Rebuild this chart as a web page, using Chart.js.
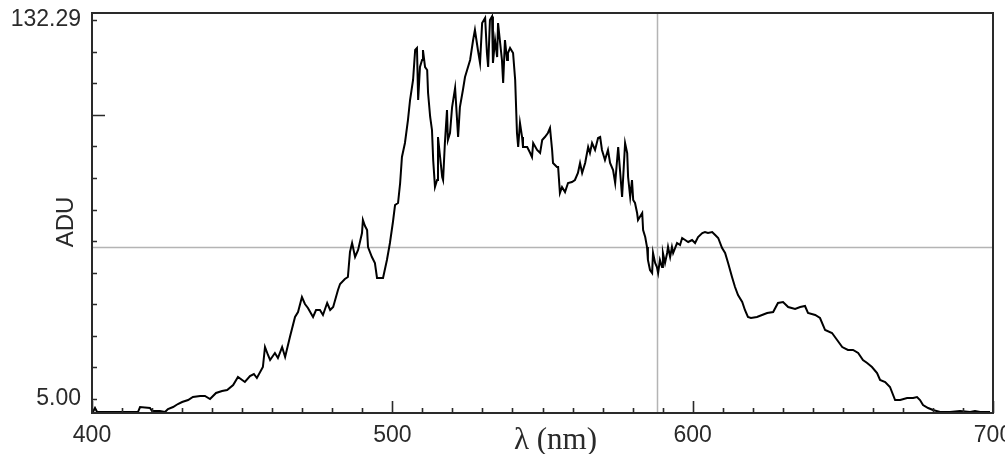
<!DOCTYPE html>
<html><head><meta charset="utf-8">
<script src="https://cdn.jsdelivr.net/npm/chart.js@4.4.0/dist/chart.umd.min.js"></script>
<style>html,body{margin:0;padding:0;background:#fff;overflow:hidden}#wrap{width:1005px;height:454px}</style>
</head><body><div id="wrap"><canvas id="c" width="1005" height="454"></canvas></div>
<script>
// ---- data ----
const wavelengths = [400.3,401.0,401.7,415.3,416.0,419.3,420.0,422.6,424.3,425.3,427.0,428.6,430.0,432.0,433.6,436.0,437.6,439.3,441.3,443.3,445.0,447.0,448.6,450.0,450.9,452.6,453.9,454.9,456.9,457.6,458.6,459.3,460.9,461.9,463.3,464.3,465.9,467.6,468.6,469.9,470.9,471.9,473.6,474.6,475.9,476.9,478.3,479.3,480.3,481.9,482.6,484.2,485.2,485.9,486.6,487.6,488.6,489.9,490.2,490.9,491.6,491.9,493.2,494.2,494.9,496.9,498.2,499.2,500.2,500.9,501.9,502.6,503.2,504.2,505.2,505.9,506.9,507.6,508.2,508.6,509.2,509.9,510.2,510.9,511.6,511.9,512.6,513.2,513.6,514.2,514.9,515.2,515.9,516.6,516.9,517.5,518.2,518.5,519.2,519.9,520.9,521.9,522.5,523.5,524.2,524.9,525.9,526.9,527.5,528.5,529.2,529.9,530.9,531.5,531.9,532.5,533.2,533.5,534.2,534.9,535.2,535.9,536.5,536.9,537.5,538.2,538.5,539.2,540.2,540.9,541.5,541.9,542.5,543.2,543.5,544.9,545.9,546.5,546.9,548.2,549.2,549.9,550.8,551.8,552.5,553.2,553.5,554.8,555.2,555.8,556.5,557.5,558.5,559.8,560.8,561.8,562.5,563.2,564.2,565.2,565.8,566.5,567.5,568.5,569.2,569.8,570.8,571.8,572.5,573.5,574.2,575.2,575.8,576.5,577.5,578.2,578.5,579.2,579.8,580.2,580.8,581.5,581.8,583.2,583.5,584.2,584.8,585.1,585.8,586.5,586.8,587.5,588.1,588.5,589.1,589.8,590.1,590.8,591.5,591.8,592.5,593.1,593.5,594.8,595.8,596.5,597.5,598.5,599.8,600.8,601.8,603.2,604.1,605.1,606.5,607.5,608.5,609.8,610.8,611.8,613.1,614.1,615.1,616.5,617.4,618.4,619.4,621.4,623.1,624.8,626.8,628.4,630.1,631.8,634.1,635.8,637.4,638.4,640.8,642.4,644.1,646.4,648.1,649.8,651.7,653.4,655.1,656.7,658.1,659.7,661.4,662.4,664.1,665.7,667.4,669.1,671.4,673.4,674.7,675.7,676.7,678.4,680.0,682.4,685.7,689.0,692.4,694.0,695.7,699.0];
const adu = [0.63,1.98,0.63,0.63,2.31,1.98,0.97,0.97,0.63,1.64,2.31,3.32,3.99,4.66,5.67,6.01,6.01,5.0,7.02,7.69,8.02,9.70,12.39,11.38,10.71,12.72,13.40,12.05,15.75,22.46,19.78,18.10,20.45,18.77,22.46,19.11,25.82,32.54,34.22,39.26,36.91,35.56,32.54,34.89,34.89,33.21,37.24,34.89,35.90,41.61,43.62,45.30,45.97,54.37,57.39,52.69,55.04,60.75,65.12,63.10,61.76,56.05,52.69,50.68,45.64,45.64,51.68,57.39,64.45,70.15,70.83,77.54,86.28,90.98,98.70,105.42,112.14,122.21,122.88,105.42,116.50,118.85,122.21,116.50,115.49,107.77,99.71,95.35,85.27,76.20,78.55,92.99,86.28,79.56,78.55,90.98,102.06,91.99,94.34,103.07,109.45,92.99,103.07,108.78,113.14,115.49,118.85,125.57,128.93,122.21,117.85,131.28,133.0,121.20,116.50,132.3,133.5,117.85,125.57,119.86,131.28,124.56,118.85,111.13,125.57,118.85,121.20,122.88,121.20,112.14,94.34,89.63,97.70,92.99,89.63,89.63,87.62,86.28,90.98,88.63,87.62,91.99,92.99,94.34,96.02,88.63,84.26,82.92,82.92,74.19,76.20,74.52,77.54,77.88,78.55,80.90,84.26,80.90,84.26,89.63,87.62,90.98,88.63,92.66,92.99,88.63,85.27,88.63,84.26,81.91,77.54,89.63,81.91,72.84,90.98,87.62,79.56,72.84,78.55,71.83,70.83,67.47,65.12,67.47,61.76,59.41,56.05,51.68,48.32,47.32,54.03,50.68,49.33,47.32,51.68,49.33,54.03,50.68,54.03,56.05,52.69,56.05,54.03,57.39,56.72,59.07,58.40,57.73,58.40,57.39,59.41,60.75,61.09,60.75,61.09,60.08,59.07,55.71,54.03,50.68,45.97,42.62,39.93,37.58,34.89,32.54,32.20,32.54,33.21,33.88,34.22,37.24,37.58,35.90,35.23,35.90,36.23,33.88,33.21,32.20,28.17,27.17,24.82,22.46,21.46,21.46,20.45,18.10,17.09,15.75,13.73,11.38,10.71,9.03,4.66,4.66,5.34,5.34,5.67,4.66,2.98,1.98,1.31,0.63,0.63,0.97,0.63,0.97,0.63,0.63];

const xMin = 400, xMax = 700, xMinorStep = 10, xMajorStep = 100;
const xTickLabels = ['400', '500', '600', '700'];
const yLabelValues = [5.00, 132.29];
const yTickLabels = ['5.00', '132.29'];
const yTickDivisions = 12, yMajorTickIndex = 9;
const yMin = 0.3, yMax = 134.64;
const crossLambda = 588, crossADU = 56.2;
const xTitle = 'λ (nm)', yTitle = 'ADU';

const ink = '#2a2a2a';
const tickFont = { family: "'Liberation Sans', Arial, sans-serif", size: 23 };

const extras = {
  id: 'extras',
  beforeDatasetsDraw(chart) {
    const { ctx, chartArea: a, scales: { x, y } } = chart;
    ctx.save();
    ctx.strokeStyle = '#b4b4b4';
    ctx.lineWidth = 1.5;
    const cx = Math.round(x.getPixelForValue(crossLambda)) + 0.5;
    const cy = Math.round(y.getPixelForValue(crossADU)) + 0.5;
    ctx.beginPath();
    ctx.moveTo(cx, a.top); ctx.lineTo(cx, a.bottom);
    ctx.moveTo(a.left, cy); ctx.lineTo(a.right, cy);
    ctx.stroke();
    ctx.restore();
  },
  afterDraw(chart) {
    const { ctx, chartArea: a, scales: { x, y } } = chart;
    ctx.save();
    ctx.strokeStyle = '#2a2a2a';
    ctx.lineWidth = 2;
    ctx.strokeRect(a.left, a.top, a.right - a.left, a.bottom - a.top);
    // tick marks, pointing into the plot
    ctx.lineWidth = 1.6;
    ctx.beginPath();
    x.ticks.forEach(t => {
      const px = Math.round(x.getPixelForValue(t.value)) + 0.5;
      const len = (t.value % xMajorStep === 0) ? 12 : 5;
      ctx.moveTo(px, a.bottom); ctx.lineTo(px, a.bottom - len);
    });
    y.ticks.forEach((t, i) => {
      const py = Math.round(y.getPixelForValue(t.value)) + 0.5;
      const len = (i === yMajorTickIndex) ? 13 : 5;
      ctx.moveTo(a.left, py); ctx.lineTo(a.left + len, py);
    });
    ctx.stroke();
    // titles
    ctx.fillStyle = ink;
    ctx.font = "24px 'Liberation Sans', Arial, sans-serif";
    ctx.textAlign = 'center';
    ctx.textBaseline = 'middle';
    ctx.save();
    ctx.translate(66, (a.top + a.bottom) / 2 + 9);
    ctx.rotate(-Math.PI / 2);
    ctx.fillText(yTitle, 0, 0);
    ctx.restore();
    ctx.font = "31px 'Liberation Serif', 'Times New Roman', serif";
    ctx.textBaseline = 'alphabetic';
    ctx.fillText(xTitle, (a.left + a.right) / 2 + 13, 449);
    ctx.restore();
  }
};

new Chart(document.getElementById('c'), {
  type: 'line',
  data: {
    datasets: [{
      data: wavelengths.map((w, i) => ({ x: w, y: adu[i] })),
      borderColor: '#000',
      borderWidth: 2,
      pointRadius: 0,
      tension: 0,
      fill: false
    }]
  },
  options: {
    responsive: false,
    animation: false,
    events: [],
    layout: { padding: { top: 13, right: 12, left: 0, bottom: 0 } },
    plugins: { legend: { display: false }, tooltip: { enabled: false } },
    scales: {
      x: {
        type: 'linear', min: xMin, max: xMax,
        afterBuildTicks(s) {
          const t = [];
          for (let v = xMin; v <= xMax; v += xMinorStep) t.push({ value: v });
          s.ticks = t;
        },
        afterFit(s) { s.height = 41; s.paddingLeft = 0; s.paddingRight = 0; },
        border: { display: false },
        grid: { display: false, drawTicks: false },
        ticks: {
          autoSkip: false, maxRotation: 0, padding: 9, color: ink, font: tickFont,
          callback(v) { const i = xTickLabels.indexOf(String(v)); return i >= 0 ? xTickLabels[i] : ''; }
        }
      },
      y: {
        type: 'linear', min: yMin, max: yMax,
        afterBuildTicks(s) {
          const t = [];
          const step = (yLabelValues[1] - yLabelValues[0]) / yTickDivisions;
          for (let k = 0; k <= yTickDivisions; k++) t.push({ value: yLabelValues[0] + k * step });
          s.ticks = t;
        },
        afterFit(s) { s.width = 92; s.paddingTop = 0; s.paddingBottom = 0; },
        border: { display: false },
        grid: { display: false, drawTicks: false },
        ticks: {
          autoSkip: false, padding: 11, color: ink, font: tickFont,
          callback(v, i) { return i === 0 ? yTickLabels[0] : (i === yTickDivisions ? yTickLabels[1] : ''); }
        }
      }
    }
  },
  plugins: [extras]
});
</script></body></html>
